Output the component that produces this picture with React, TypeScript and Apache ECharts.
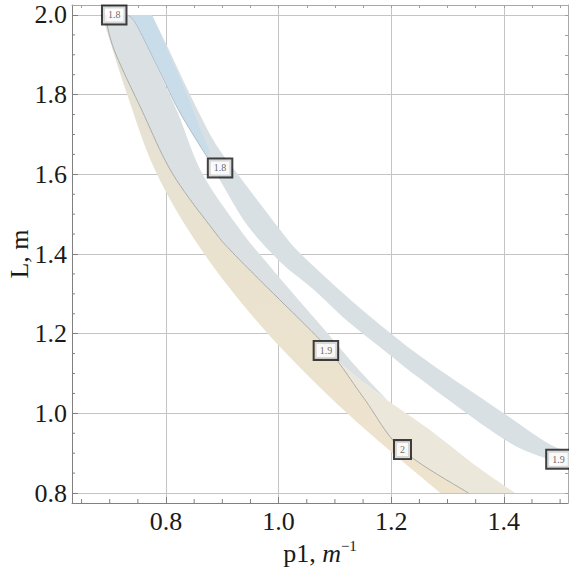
import React, { useEffect, useRef } from "react";
import * as echarts from "echarts";

// ---- axis ticks / labels ----
const xMajorTicks = [0.8, 1.0, 1.2, 1.4];
const xMinorTicks = [0.65, 0.7, 0.75, 0.85, 0.9, 0.95, 1.05, 1.1, 1.15, 1.25, 1.3, 1.35, 1.45, 1.5];
const yMajorTicks = [0.8, 1.0, 1.2, 1.4, 1.6, 1.8, 2.0];
const yMinorTicks = [0.85, 0.9, 0.95, 1.05, 1.1, 1.15, 1.25, 1.3, 1.35, 1.45, 1.5, 1.55, 1.65, 1.7, 1.75, 1.85, 1.9, 1.95];

// ---- curves: [p1, L] ----
// left (outer) edge of the tan band
const tanLeftEdge = [
  [0.686, 2.0], [0.731, 1.8], [0.784, 1.6], [0.868, 1.4],
  [0.981, 1.2], [1.122, 1.0], [1.287, 0.8],
];
// thin contour line inside the lower band (upper part, down to label 1.9)
const midLineUpper = [
  [0.692, 2.0], [0.708, 1.912], [0.757, 1.761], [0.811, 1.603], [0.884, 1.46],
  [0.914, 1.41], [0.972, 1.327], [1.074, 1.184], [1.106, 1.129],
];
// thin contour line inside the lower band (lower part, through label 2)
const midLineLower = [
  [1.106, 1.129], [1.154, 1.033], [1.22, 0.908], [1.337, 0.8],
];
// upper edge of the light tan area (right part of lower band)
const tanRightEdge = [
  [1.106, 1.129], [1.145, 1.084], [1.193, 1.033], [1.269, 0.958], [1.349, 0.870], [1.42, 0.8],
];
// right edge of the grey part of the lower band
const lowerBandRightEdge = [
  [0.732, 2.0], [0.748, 1.974], [0.786, 1.862], [0.821, 1.754], [0.864, 1.603],
  [0.932, 1.46], [0.981, 1.375], [1.031, 1.292], [1.079, 1.214], [1.127, 1.134],
  [1.159, 1.084], [1.193, 1.033],
];
// lower / left edge of the upper grey band
const upperBandLowerEdge = [
  [0.732, 2.0], [0.748, 1.974], [0.789, 1.857], [0.825, 1.754], [0.873, 1.643],
  [0.896, 1.585], [0.944, 1.473], [1.003, 1.38], [1.061, 1.312], [1.122, 1.232],
  [1.198, 1.146], [1.252, 1.086], [1.399, 0.936], [1.477, 0.885], [1.514, 0.863],
];
// upper / right edge of the upper grey band
const upperBandUpperEdge = [
  [0.775, 2.0], [0.807, 1.907], [0.839, 1.811], [0.884, 1.686], [0.926, 1.603],
  [1.003, 1.46], [1.038, 1.402], [1.122, 1.292], [1.198, 1.202], [1.269, 1.126],
  [1.399, 1.001], [1.477, 0.926], [1.514, 0.905],
];
// the blue wedge at the top
const blueWedgeLeftEdge = [
  [0.732, 2.0], [0.748, 1.974], [0.789, 1.857], [0.825, 1.754], [0.873, 1.643],
];
const blueWedgeRightEdge = [
  [0.775, 2.0], [0.834, 1.811], [0.86, 1.716], [0.878, 1.656],
];

// contour labels
const labelText = ["1.8", "1.8", "1.9", "2", "1.9"];
const labelP1 = [0.708, 0.896, 1.084, 1.22, 1.497];
const labelL = [2.0, 1.616, 1.158, 0.909, 0.885];

const reversed = (a: number[][]) => a.slice().reverse();

// Catmull-Rom smoothing of a pixel polyline (drawing only)
function smoothPx(p: number[][], seg = 10): number[][] {
  if (p.length < 3) return p;
  const out: number[][] = [];
  for (let i = 0; i < p.length - 1; i++) {
    const p0 = p[i - 1] || p[i];
    const p1 = p[i];
    const p2 = p[i + 1];
    const p3 = p[i + 2] || p[i + 1];
    for (let t = 0; t < seg; t++) {
      const s = t / seg, s2 = s * s, s3 = s2 * s;
      const f = (k: number) =>
        0.5 * (2 * p1[k] + (-p0[k] + p2[k]) * s + (2 * p0[k] - 5 * p1[k] + 4 * p2[k] - p3[k]) * s2 +
          (-p0[k] + 3 * p1[k] - 3 * p2[k] + p3[k]) * s3);
      out.push([f(0), f(1)]);
    }
  }
  out.push(p[p.length - 1]);
  return out;
}

function polySeries(edges: number[][][], fill: any, z: number) {
  return {
    type: "custom",
    xAxisIndex: 0,
    yAxisIndex: 0,
    z,
    silent: true,
    data: [[1, 1]],
    renderItem: (_params: any, api: any) => {
      const pts: number[][] = [];
      edges.forEach((e) => smoothPx(e.map((p) => api.coord(p))).forEach((q) => pts.push(q)));
      return { type: "polygon", shape: { points: pts }, style: { fill, stroke: null } };
    },
  };
}

function lineSeries(pts: number[][], stroke: string, width: number, z: number) {
  return {
    type: "custom",
    xAxisIndex: 0,
    yAxisIndex: 0,
    z,
    silent: true,
    data: [[1, 1]],
    renderItem: (_params: any, api: any) => ({
      type: "polyline",
      shape: { points: smoothPx(pts.map((p) => api.coord(p))) },
      style: { fill: null, stroke, lineWidth: width },
    }),
  };
}

const SERIF = "Liberation Serif";
const X_MIN = 0.633, X_MAX = 1.514, Y_MIN = 0.775, Y_MAX = 2.025;
const AXIS_COLOR = "#808080";
const TEXT_COLOR = "#1a1a1a";

export default function App() {
  const ref = useRef<HTMLDivElement>(null);
  useEffect(() => {
    if (!ref.current) return;
    const chart = echarts.init(ref.current, undefined, { renderer: "svg" });

    const midLine = [...midLineUpper, ...midLineLower.slice(1)];
    const labelData = labelText.map((t, i) => [labelP1[i], labelL[i], t]);

    const tanGrad = new echarts.graphic.LinearGradient(0, 0, 0, 1, [
      { offset: 0, color: "#e3e1d6" },
      { offset: 0.45, color: "#e9e2d0" },
      { offset: 1, color: "#eee3cd" },
    ]);

    chart.setOption({
      animation: false,
      backgroundColor: "#ffffff",
      textStyle: { fontFamily: SERIF },
      grid: { left: 72, right: 1, top: 5, bottom: 71, containLabel: false, outerBoundsMode: "none" },
      xAxis: [
        {
          type: "value", min: X_MIN, max: X_MAX,
          position: "bottom",
          axisLine: { show: true, lineStyle: { color: AXIS_COLOR, width: 1 } },
          axisTick: { show: true, inside: true, length: 6, customValues: xMajorTicks, lineStyle: { color: AXIS_COLOR } },
          axisLabel: {
            show: true, customValues: xMajorTicks, margin: 5,
            formatter: (v: number) => v.toFixed(1),
            fontSize: 26, fontFamily: SERIF, color: TEXT_COLOR,
          },
          splitLine: { show: true, lineStyle: { color: "#c4c4c4", width: 1 } },
          name: "{a|p1, }{b|m}{c|−1}",
          nameLocation: "middle",
          nameGap: 31,
          nameTextStyle: {
            fontFamily: SERIF,
            rich: {
              a: { fontSize: 26, fontFamily: SERIF, color: TEXT_COLOR, lineHeight: 30 },
              b: { fontSize: 26, fontFamily: SERIF, fontStyle: "italic", color: TEXT_COLOR, lineHeight: 30 },
              c: { fontSize: 15, fontFamily: SERIF, color: TEXT_COLOR, verticalAlign: "top", lineHeight: 14 },
            },
          },
        },
        {
          type: "value", min: X_MIN, max: X_MAX,
          position: "top",
          axisLine: { show: true, lineStyle: { color: "#a8a8a8", width: 1 } },
          axisTick: { show: true, inside: true, length: 3, customValues: [...xMinorTicks, ...xMajorTicks], lineStyle: { color: "#a0a0a0" } },
          axisLabel: { show: false },
          splitLine: { show: false },
        },
      ],
      yAxis: [
        {
          type: "value", min: Y_MIN, max: Y_MAX,
          position: "left",
          axisLine: { show: true, lineStyle: { color: AXIS_COLOR, width: 1 } },
          axisTick: { show: true, inside: true, length: 6, customValues: yMajorTicks, lineStyle: { color: AXIS_COLOR } },
          axisLabel: {
            show: true, customValues: yMajorTicks, margin: 5,
            formatter: (v: number) => v.toFixed(1),
            fontSize: 26, fontFamily: SERIF, color: TEXT_COLOR,
          },
          splitLine: { show: true, lineStyle: { color: "#c4c4c4", width: 1 } },
          name: "L, m",
          nameLocation: "middle",
          nameGap: 40,
          nameRotate: 90,
          nameMoveOverlap: false,
          nameTextStyle: { fontSize: 26, fontFamily: SERIF, color: TEXT_COLOR, lineHeight: 26 },
        },
        {
          type: "value", min: Y_MIN, max: Y_MAX,
          position: "right",
          axisLine: { show: true, lineStyle: { color: "#a8a8a8", width: 1 } },
          axisTick: { show: true, inside: true, length: 3, customValues: [...yMinorTicks, ...yMajorTicks], lineStyle: { color: "#a0a0a0" } },
          axisLabel: { show: false },
          splitLine: { show: false },
        },
      ],
      series: [
        polySeries([tanLeftEdge, reversed(midLine)], tanGrad, 2),
        polySeries([midLineLower, reversed(tanRightEdge)], "#ebe7da", 2),
        polySeries([midLineUpper, tanRightEdge.slice(1, 3), reversed(lowerBandRightEdge)], "#dbe1e3", 3),
        polySeries([upperBandLowerEdge, reversed(upperBandUpperEdge)], "#d8e0e4", 3),
        polySeries([blueWedgeLeftEdge, reversed(blueWedgeRightEdge)], "#c9dce9", 4),
        lineSeries(midLine, "#9c9c9c", 0.8, 5),
        lineSeries(blueWedgeLeftEdge, "#a9b4bc", 0.8, 5),
        // minor ticks on bottom axis
        {
          type: "custom", xAxisIndex: 0, yAxisIndex: 0, z: 6, silent: true, clip: false,
          data: xMinorTicks.map((v) => [v, Y_MIN]),
          renderItem: (_p: any, api: any) => {
            const c = api.coord([api.value(0), api.value(1)]);
            return { type: "line", shape: { x1: c[0], y1: c[1], x2: c[0], y2: c[1] - 4 }, style: { stroke: AXIS_COLOR, lineWidth: 1 } };
          },
        },
        // minor ticks on left axis
        {
          type: "custom", xAxisIndex: 0, yAxisIndex: 0, z: 6, silent: true, clip: false,
          data: yMinorTicks.map((v) => [X_MIN, v]),
          renderItem: (_p: any, api: any) => {
            const c = api.coord([api.value(0), api.value(1)]);
            return { type: "line", shape: { x1: c[0], y1: c[1], x2: c[0] + 3, y2: c[1] }, style: { stroke: AXIS_COLOR, lineWidth: 1 } };
          },
        },
        {
          type: "scatter",
          xAxisIndex: 0,
          yAxisIndex: 0,
          z: 10,
          symbolSize: 0,
          silent: true,
          data: labelData,
          label: {
            show: true,
            position: "inside",
            formatter: (p: any) => p.value[2],
            fontSize: 10,
            lineHeight: 13,
            fontFamily: SERIF,
            color: "#444",
            backgroundColor: "#ffffff",
            borderColor: "#111",
            borderWidth: 2,
            padding: [2, 5],
          },
        },
      ],
    });
    return () => chart.dispose();
  }, []);
  return <div ref={ref} style={{ position: "absolute", left: 0, top: 0, width: 569, height: 574 }} />;
}
